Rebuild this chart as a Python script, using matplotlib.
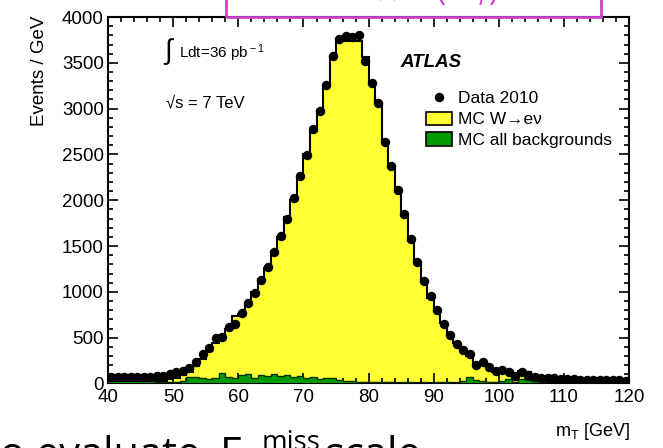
import numpy as np
import matplotlib.pyplot as plt
from matplotlib.patches import Patch, Rectangle
from matplotlib.lines import Line2D
from matplotlib.ticker import MultipleLocator

plt.rcParams['font.family'] = ['Liberation Sans', 'DejaVu Sans']
plt.rcParams['mathtext.fontset'] = 'custom'
plt.rcParams['mathtext.rm'] = 'Liberation Sans'
plt.rcParams['mathtext.it'] = 'Liberation Sans:italic'

# 1 GeV bins, 40..120 GeV
bin_edges = np.arange(40, 121, 1)

data_2010 = [75, 72, 70, 72, 74, 72, 74, 78, 87, 100,
             122, 140, 165, 240, 317, 382, 492, 506, 615, 654,
             765, 874, 985, 1130, 1270, 1440, 1610, 1800, 2030, 2262,
             2492, 2773, 2977, 3257, 3574, 3757, 3790, 3780, 3800, 3523,
             3282, 3057, 2638, 2372, 2110, 1850, 1580, 1330, 1120, 950,
             805, 645, 525, 434, 368, 317, 204, 233, 178, 134,
             142, 124, 77, 124, 88, 66, 62, 58, 55, 52,
             48, 45, 42, 40, 38, 36, 35, 34, 33, 32]

# top of the stack (W->enu + backgrounds)
mc_total = [30, 35, 30, 33, 30, 35, 28, 22, 30, 45,
            65, 95, 130, 190, 270, 350, 440, 530, 600, 740,
            760, 870, 1000, 1140, 1260, 1430, 1600, 1820, 2000, 2250,
            2500, 2760, 2990, 3250, 3560, 3740, 3740, 3740, 3740, 3560,
            3300, 3050, 2620, 2360, 2090, 1830, 1560, 1310, 1110, 930,
            790, 660, 540, 440, 370, 300, 220, 210, 175, 130,
            120, 110, 95, 135, 130, 40, 38, 35, 30, 28,
            25, 25, 22, 22, 20, 20, 20, 18, 18, 18]

mc_bkg = [25, 30, 25, 28, 25, 30, 22, 15, 20, 15,
          20, 25, 70, 75, 60, 45, 60, 115, 70, 60,
          95, 100, 60, 90, 85, 100, 80, 95, 70, 80,
          60, 70, 50, 60, 65, 40, 25, 30, 15, 20,
          15, 18, 12, 15, 10, 15, 12, 10, 15, 10,
          12, 20, 15, 10, 25, 75, 35, 30, 15, 20,
          25, 50, 20, 45, 35, 25, 30, 20, 15, 10,
          10, 8, 8, 6, 6, 5, 5, 5, 5, 5]

centers = 0.5 * (bin_edges[:-1] + bin_edges[1:])

fig = plt.figure(figsize=(6.63, 4.48), dpi=100)
ax = fig.add_axes([0.163, 0.144, 0.786, 0.818])

yellow = '#ffff33'
green = '#009900'

ax.stairs(mc_total, bin_edges, fill=True, color=yellow, zorder=1)
ax.stairs(mc_total, bin_edges, color='black', lw=1.5, zorder=2)
ax.stairs(mc_bkg, bin_edges, fill=True, color=green, zorder=3)
ax.stairs(mc_bkg, bin_edges, color='#003300', lw=1.0, zorder=3)
ax.plot(centers, data_2010, 'o', color='black', ms=5.8, zorder=5)

ax.set_xlim(40, 120)
ax.set_ylim(0, 4000)
ax.xaxis.set_major_locator(MultipleLocator(10))
ax.xaxis.set_minor_locator(MultipleLocator(2))
ax.yaxis.set_major_locator(MultipleLocator(500))
ax.yaxis.set_minor_locator(MultipleLocator(100))
ax.tick_params(which='both', direction='in', top=True, right=True, width=1.2)
ax.tick_params(which='major', length=7, labelsize=13.5)
ax.tick_params(which='minor', length=3.5)
ax.tick_params(axis='y', pad=3)
ax.tick_params(axis='x', pad=4)
for s in ax.spines.values():
    s.set_linewidth(1.5)

fig.text(0.06, 0.966, 'Events / GeV', rotation=90, ha='center', va='top', fontsize=13.5)
fig.text(0.950, 0.036, r'm$_{\rm T}$ [GeV]', ha='right', va='center', fontsize=13)

ax.text(0.105, 0.905, r'$\int$', transform=ax.transAxes, fontsize=20, va='center', ha='left')
ax.text(0.137, 0.90, r'Ldt=36 pb$^{\rm -1}$', transform=ax.transAxes, fontsize=11, va='center')
ax.text(0.112, 0.765, '\u221as = 7 TeV', transform=ax.transAxes, fontsize=12, va='center')
ax.text(0.56, 0.877, 'ATLAS', transform=ax.transAxes, fontsize=13.5,
        fontweight='bold', fontstyle='italic', va='center')

handles = [Line2D([], [], marker='o', color='black', ls='none', ms=5.8),
           Patch(facecolor=yellow, edgecolor='black', lw=1.2),
           Patch(facecolor=green, edgecolor='black', lw=1.2)]
labels = ['Data 2010', 'MC W\u2192e\u03bd', 'MC all backgrounds']
ax.legend(handles, labels, loc='upper left', bbox_to_anchor=(0.61, 0.799),
          frameon=False, fontsize=12.5, borderpad=0, borderaxespad=0,
          handlelength=1.5, handleheight=0.8, handletextpad=0.35, labelspacing=0.3)

# slide decorations around the plot
fig.patches.append(Rectangle((226 / 663, 1 - 17 / 448), (601 - 226) / 663, 0.2,
                             transform=fig.transFigure, fill=False,
                             edgecolor='#cc44cc', lw=2))
fig.text(413 / 663, 1 - 1 / 448, 'Use W\u2192e\u03bd (m$_T$) fit', color='#cc44cc',
         ha='center', va='baseline', fontsize=22, family='Open Sans')

base = (448 - 467) / 448
fig.text(-15 / 663, base, 'to evaluate', ha='left', va='baseline',
         fontsize=30, family='Open Sans')
fig.text(220 / 663, base, 'E', ha='left', va='baseline',
         fontsize=30, family='Open Sans')
fig.text(262 / 663, (448 - 450) / 448, 'miss', ha='left', va='baseline',
         fontsize=20, family='Open Sans')
fig.text(325 / 663, base, 'scale', ha='left', va='baseline',
         fontsize=30, family='Open Sans')

fig.savefig('out.png', dpi=100)
